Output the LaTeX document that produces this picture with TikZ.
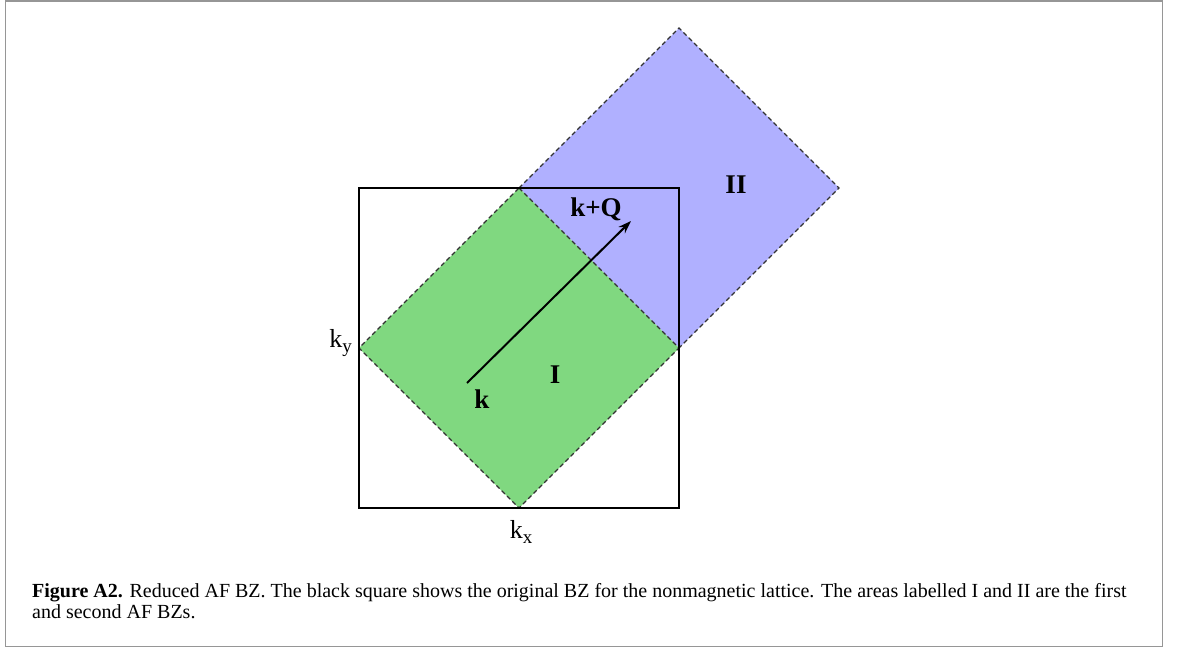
\documentclass[tikz,border=0pt]{standalone}
\usepackage{fontspec}
\setmainfont{Liberation Serif}
\usetikzlibrary{arrows.meta}
\definecolor{bzgreen}{RGB}{128,216,128}
\definecolor{bzblue}{RGB}{176,176,255}
\definecolor{framegray}{RGB}{150,150,150}
\definecolor{dashgray}{RGB}{50,50,50}
\newcommand{\axsub}[1]{\raisebox{-0.42ex}{\fontsize{19}{22}\selectfont #1}}
\begin{document}
\begin{tikzpicture}[x=1pt,y=-1pt,
  zoneedge/.style={draw=dashgray,line width=1.1pt,dash pattern=on 4.5pt off 3pt},
  bzsquare/.style={draw=black,line width=2pt},
  boldlabel/.style={font=\fontsize{27}{30}\selectfont\bfseries,inner sep=0pt},
  axislabel/.style={font=\fontsize{26}{30}\selectfont,inner sep=0pt},
  captext/.style={font=\fontsize{20}{24}\selectfont,inner sep=0pt,anchor=base west}]
\useasboundingbox (0,0) rectangle (1179,648);
\draw[framegray,line width=1.6pt] (5.5,1) rectangle (1162.5,646.5);
% vertices
\coordinate (gT) at (519,188);
\coordinate (gR) at (679,348);
\coordinate (gB) at (519,508);
\coordinate (gL) at (359,348);
\coordinate (bT) at (679,28);
\coordinate (bR) at (839,188);
% zones
\fill[bzblue] (gT) -- (bT) -- (bR) -- (gR) -- cycle;
\fill[bzgreen] (gT) -- (gR) -- (gB) -- (gL) -- cycle;
\draw[zoneedge] (gT) -- (gR) -- (gB) -- (gL) -- cycle;
\draw[zoneedge] (gT) -- (bT) -- (bR) -- (gR);
% original BZ
\draw[bzsquare] (359,188) rectangle (679,508);
% arrow
\coordinate (kstart) at (467,383);
\coordinate (kend) at (631,221);
\draw[line width=2pt,-{Stealth[length=13pt,width=9pt]}] (kstart) -- (kend);
% labels
\node[boldlabel] (kQ) at (596,209) {k+Q};
\node[boldlabel,anchor=base] (k) at (482,408) {k};
\node[boldlabel,anchor=base] (one) at (555,383) {I};
\node[boldlabel,anchor=base] (two) at (736,193) {II};
\node[axislabel,anchor=base east] (ky) at (352,347) {k\axsub{y}};
\node[axislabel,anchor=base] (kx) at (521,538) {k\axsub{x}};
% caption
\node[captext] (cap1) at (32,597) {\textbf{Figure A2.} Reduced AF BZ. The black square shows the original BZ for the nonmagnetic lattice. The areas labelled I and II are the first};
\node[captext] (cap2) at (32,618) {and second AF BZs.};
\end{tikzpicture}
\end{document}
